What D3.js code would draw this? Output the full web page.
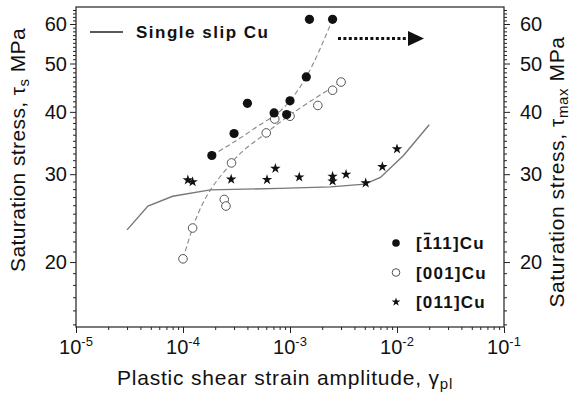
<!DOCTYPE html>
<html lang="en">
<head>
<meta charset="UTF-8">
<title>Saturation stress vs plastic shear strain amplitude</title>
<style>
    body { margin: 0; background: #fff; }
    svg text { font-family: "Liberation Sans", Arial, sans-serif; fill: #111; }
</style>
</head>
<body>
<svg id="chart"></svg>

<script src="https://d3js.org/d3.v7.min.js"></script>
<script>
    // Values
    var strain111 = [1.86e-4, 3.0e-4, 4.0e-4, 7.1e-4, 9.3e-4, 1.0e-3, 1.42e-3, 1.52e-3, 2.5e-3];
    var stress111 = [32.7, 36.2, 41.6, 39.8, 39.5, 42.1, 47.0, 61.3, 61.3];

    var strain001 = [1.0e-4, 1.23e-4, 2.43e-4, 2.52e-4, 2.84e-4, 6.0e-4, 7.2e-4, 1.0e-3, 1.82e-3, 2.5e-3, 3.0e-3];
    var stress001 = [20.3, 23.4, 26.7, 25.9, 31.6, 36.3, 38.7, 39.2, 41.2, 44.2, 45.9];

    var strain011 = [1.11e-4, 1.23e-4, 2.82e-4, 6.1e-4, 7.3e-4, 1.22e-3, 2.5e-3, 2.5e-3, 3.34e-3, 5.1e-3, 7.3e-3, 1.0e-2];
    var stress011 = [29.2, 28.96, 29.3, 29.25, 30.8, 29.6, 29.7, 29.05, 29.97, 28.8, 31.05, 33.7];

    var strainSingle = [3.0e-5, 4.7e-5, 8.0e-5, 1.8e-4, 8.0e-4, 2.4e-3, 5.0e-3, 7.0e-3, 1.15e-2, 2.0e-2];
    var stressSingle = [23.2, 25.9, 27.1, 27.9, 28.1, 28.3, 28.65, 29.55, 32.7, 37.7];

    // dashed guide curves
    var fitStrain111 = [1.86e-4, 4.6e-4, 1.0e-3, 1.42e-3, 2.5e-3];
    var fitStress111 = [32.7, 37.0, 42.1, 47.0, 61.3];
    var fitStrain001 = [1.0e-4, 1.23e-4, 2.84e-4, 6.0e-4, 3.0e-3];
    var fitStress001 = [20.3, 23.4, 31.6, 36.3, 45.9];

    var xTicks = [1e-5, 1e-4, 1e-3, 1e-2, 1e-1];
    var xTickExp = ["-5", "-4", "-3", "-2", "-1"];
    var yTicks = [20, 30, 40, 50, 60];
    var seriesNames = ["[111]Cu", "[001]Cu", "[011]Cu"];

    // Layout
    var W = 572, H = 398;
    var margin = { top: 7, right: 68, bottom: 71, left: 76 },
        width = W - margin.left - margin.right,
        height = H - margin.top - margin.bottom;

    var svg = d3.select("#chart").attr("width", W).attr("height", H);
    var g = svg.append("g")
        .attr("transform", "translate(" + margin.left + "," + margin.top + ")");

    var x = d3.scaleLog().domain([1e-5, 1e-1]).range([0, width]);
    var y = d3.scaleLog().domain([14.82, 64.9]).range([height, 0]);

    // minor ticks
    var xMinor = [];
    for (var e = -5; e < -1; e++)
        for (var m = 2; m < 10; m++) xMinor.push(m * Math.pow(10, e));
    var yMinor = d3.range(15, 65).filter(v => yTicks.indexOf(v) < 0);

    // Axes
    var axisStyle = sel => {
        sel.select(".domain").remove();
        sel.selectAll("line").attr("stroke", "#222").attr("stroke-width", 1);
    };

    g.append("g").attr("transform", "translate(0," + height + ")")
        .call(d3.axisBottom(x).tickValues(xTicks).tickFormat("").tickSize(6)).call(axisStyle);
    g.append("g").attr("transform", "translate(0," + height + ")")
        .call(d3.axisBottom(x).tickValues(xMinor).tickFormat("").tickSize(3)).call(axisStyle);

    g.append("g").call(d3.axisLeft(y).tickValues(yTicks).tickFormat("").tickSize(6)).call(axisStyle);
    g.append("g").call(d3.axisLeft(y).tickValues(yMinor).tickFormat("").tickSize(3)).call(axisStyle);
    g.append("g").attr("transform", "translate(" + width + ",0)")
        .call(d3.axisRight(y).tickValues(yTicks).tickFormat("").tickSize(6)).call(axisStyle);
    g.append("g").attr("transform", "translate(" + width + ",0)")
        .call(d3.axisRight(y).tickValues(yMinor).tickFormat("").tickSize(3)).call(axisStyle);

    // frame
    g.append("rect")
        .attr("width", width).attr("height", height)
        .attr("fill", "none").attr("stroke", "#222").attr("stroke-width", 1.2);

    // tick labels
    xTicks.forEach((v, i) => {
        var t = g.append("text")
            .attr("x", x(v)).attr("y", height + 27)
            .attr("text-anchor", "middle")
            .style("font-size", "20px");
        t.append("tspan").text("10");
        t.append("tspan").attr("dy", -8).style("font-size", "13px").text(xTickExp[i]);
    });

    yTicks.forEach(v => {
        g.append("text")
            .attr("x", -9).attr("y", y(v)).attr("dy", "0.36em")
            .attr("text-anchor", "end")
            .style("font-size", "20px")
            .text(v);
        g.append("text")
            .attr("x", width + 16).attr("y", y(v)).attr("dy", "0.36em")
            .style("font-size", "20px")
            .text(v);
    });

    // axis titles
    var xt = g.append("text")
        .attr("x", width / 2 - 5).attr("y", height + 58)
        .attr("text-anchor", "middle")
        .style("font-size", "21px")
        .style("letter-spacing", "0.8px");
    xt.append("tspan").text("Plastic shear strain amplitude, γ");
    xt.append("tspan").attr("dy", 4).style("font-size", "15px").text("pl");

    var yl = svg.append("text")
        .attr("transform", "translate(25,150) rotate(-90)")
        .attr("text-anchor", "middle")
        .style("font-size", "21px")
        .style("letter-spacing", "0.4px");
    yl.append("tspan").text("Saturation stress, τ");
    yl.append("tspan").attr("dy", 4).style("font-size", "15px").text("s");
    yl.append("tspan").attr("dy", -4).text(" MPa");

    var yr = svg.append("text")
        .attr("transform", "translate(564,172) rotate(-90)")
        .attr("text-anchor", "middle")
        .style("font-size", "21px")
        .style("letter-spacing", "0.6px");
    yr.append("tspan").text("Saturation stress, τ");
    yr.append("tspan").attr("dy", 4).style("font-size", "15px").text("max");
    yr.append("tspan").attr("dy", -4).text(" MPa");

    // Lines
    var line = d3.line().x(d => x(d[0])).y(d => y(d[1]));
    var curve = d3.line().x(d => x(d[0])).y(d => y(d[1])).curve(d3.curveMonotoneX);

    g.append("path")
        .datum(d3.zip(strainSingle, stressSingle))
        .attr("d", line)
        .attr("fill", "none").attr("stroke", "#777").attr("stroke-width", 1.4);

    g.append("path")
        .datum(d3.zip(fitStrain111, fitStress111))
        .attr("d", curve)
        .attr("fill", "none").attr("stroke", "#888").attr("stroke-width", 1.1)
        .attr("stroke-dasharray", "5,3");

    g.append("path")
        .datum(d3.zip(fitStrain001, fitStress001))
        .attr("d", curve)
        .attr("fill", "none").attr("stroke", "#888").attr("stroke-width", 1.1)
        .attr("stroke-dasharray", "5,3");

    // Markers
    g.selectAll(".p001")
        .data(d3.zip(strain001, stress001))
        .join("circle")
        .attr("cx", d => x(d[0])).attr("cy", d => y(d[1]))
        .attr("r", 4.3)
        .attr("fill", "#fff").attr("stroke", "#555").attr("stroke-width", 1);

    g.selectAll(".p111")
        .data(d3.zip(strain111, stress111))
        .join("circle")
        .attr("cx", d => x(d[0])).attr("cy", d => y(d[1]))
        .attr("r", 4.6)
        .attr("fill", "#111");

    var star = d3.symbol().type(d3.symbolStar).size(34);
    g.selectAll(".p011")
        .data(d3.zip(strain011, stress011))
        .join("path")
        .attr("d", star)
        .attr("transform", d => "translate(" + x(d[0]) + "," + y(d[1]) + ")")
        .attr("fill", "#111");

    // Legend: single slip
    svg.append("line")
        .attr("x1", 90).attr("x2", 123).attr("y1", 32).attr("y2", 32)
        .attr("stroke", "#222").attr("stroke-width", 1.5);
    svg.append("text")
        .attr("x", 136).attr("y", 38)
        .style("font-size", "17px").style("font-weight", "bold")
        .style("letter-spacing", "1.5px")
        .text("Single slip Cu");

    // dotted arrow
    svg.append("line")
        .attr("x1", 338).attr("x2", 409).attr("y1", 38.5).attr("y2", 38.5)
        .attr("stroke", "#111").attr("stroke-width", 3.2)
        .attr("stroke-dasharray", "3,2.4");
    svg.append("path")
        .attr("d", "M408,31L424,38.5L408,46Z")
        .attr("fill", "#111");

    // Legend: series
    var legY = [243, 272.5, 302];
    var leg = svg.append("g");
    leg.append("circle").attr("cx", 396).attr("cy", legY[0]).attr("r", 3.8).attr("fill", "#111");
    leg.append("circle").attr("cx", 396).attr("cy", legY[1]).attr("r", 3.8)
        .attr("fill", "#fff").attr("stroke", "#555");
    leg.append("path").attr("d", d3.symbol().type(d3.symbolStar).size(24))
        .attr("transform", "translate(396," + legY[2] + ")").attr("fill", "#111");

    seriesNames.forEach((s, i) => {
        var t = leg.append("text")
            .attr("x", 416).attr("y", legY[i]).attr("dy", "0.36em")
            .style("font-size", "17px").style("font-weight", "bold")
            .style("letter-spacing", "1.2px")
            .text(s);
        if (i == 0) {
            // bar over the first 1
            var n = t.node();
            var a = n.getStartPositionOfChar(1), b = n.getEndPositionOfChar(1);
            leg.append("line")
                .attr("x1", a.x + 1).attr("x2", b.x - 2)
                .attr("y1", legY[i] - 9.5).attr("y2", legY[i] - 9.5)
                .attr("stroke", "#111").attr("stroke-width", 1.6);
        }
    });
</script>
</body>
</html>
